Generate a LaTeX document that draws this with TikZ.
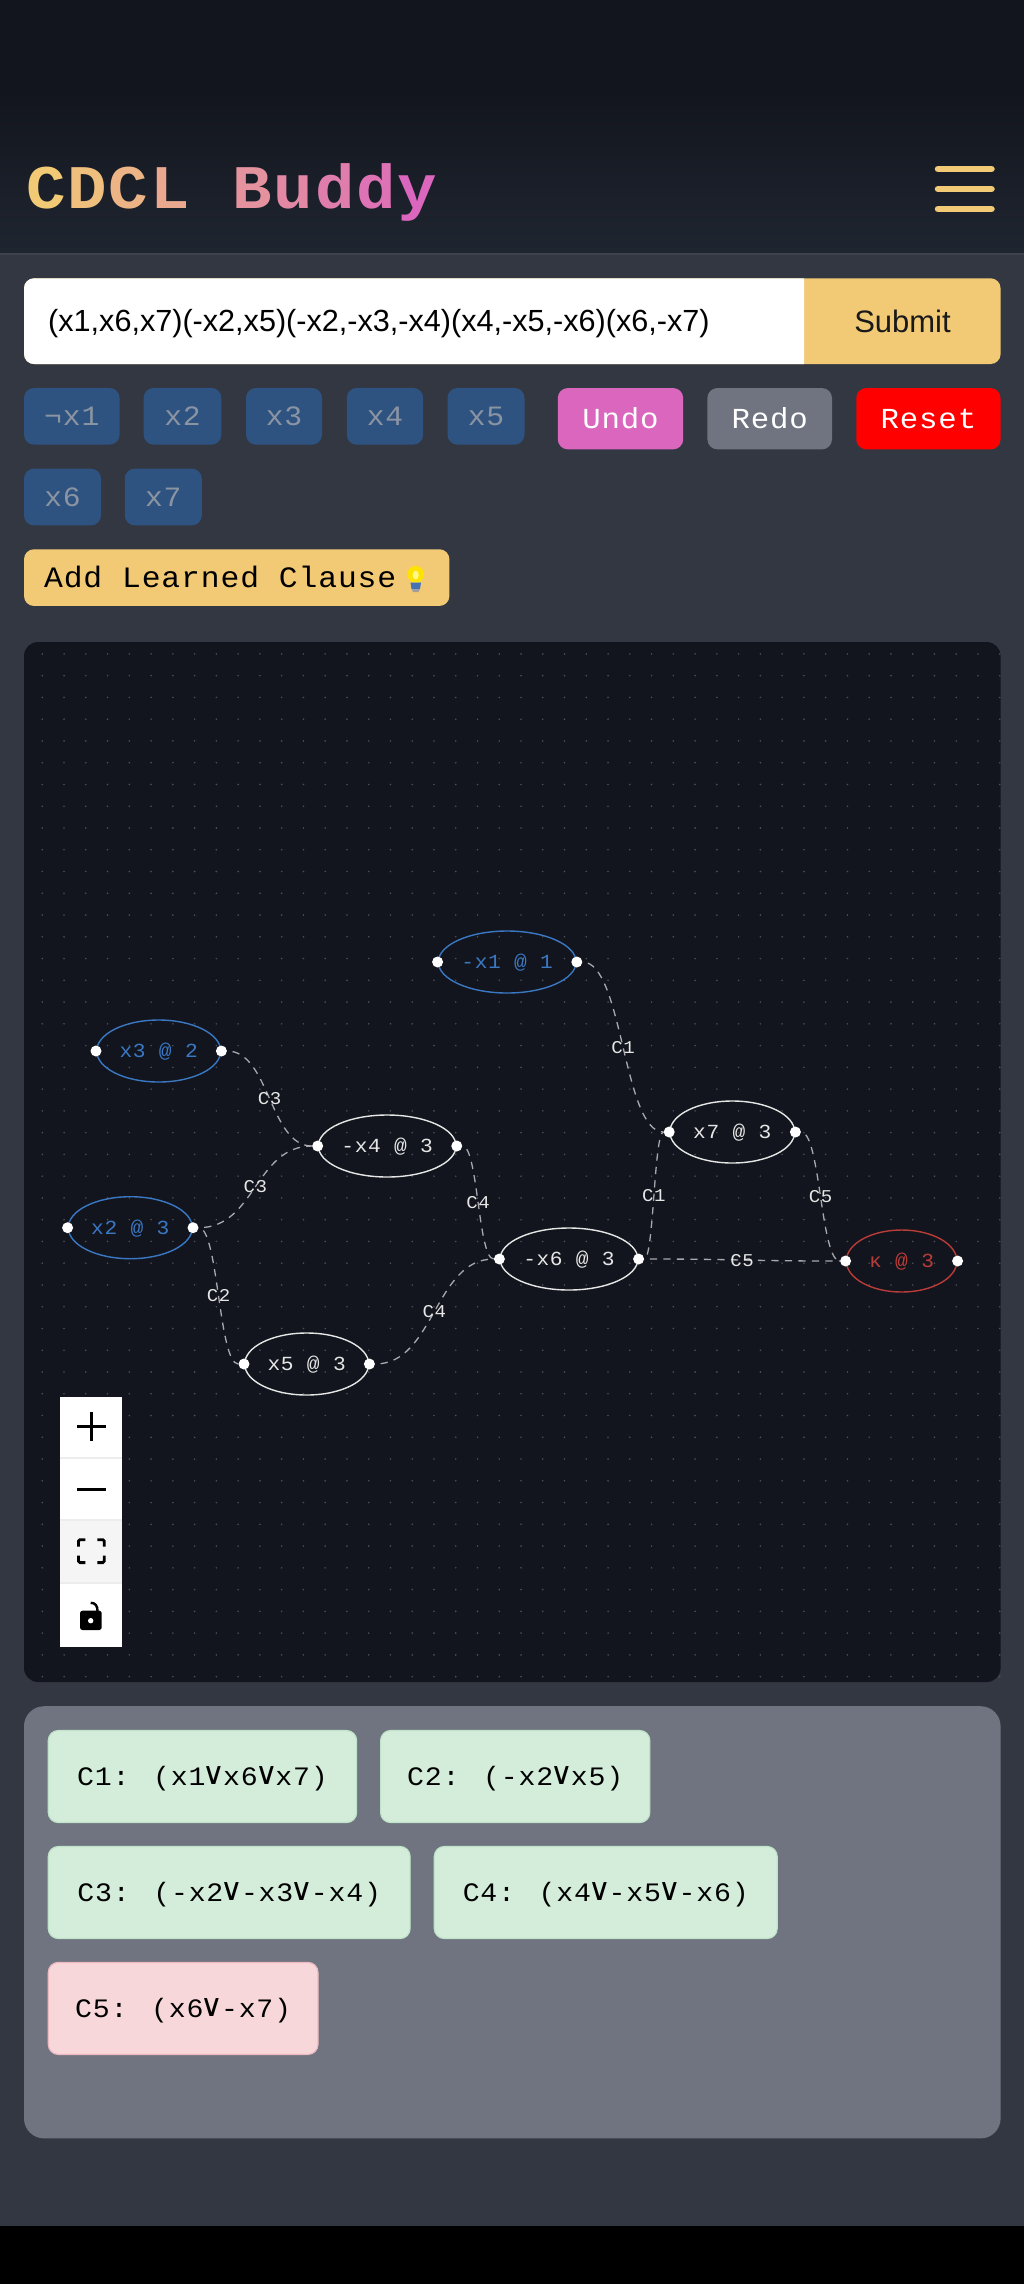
\documentclass[tikz,border=0pt]{standalone}
\usepackage{fontspec}
\usepackage{xcolor}
\usetikzlibrary{shapes.geometric, positioning, calc}
\setmainfont{Liberation Sans}
\newfontfamily\monofont[FakeStretch=1.06,LetterSpace=3,BoldFeatures={FakeStretch=1.06}]{Liberation Mono}
\newfontfamily\orfont{DejaVu Sans}
\newcommand{\orsym}{\makebox[17.6pt]{\raisebox{1pt}{\orfont\fontsize{31}{31}\selectfont\char"2228}}}
\newcommand{\titlechar}[2]{\makebox[41.3pt][l]{\color{#1}#2}}

\definecolor{pagebg}{HTML}{333742}
\definecolor{headtop}{HTML}{12151D}
\definecolor{headbot}{HTML}{1F2530}
\definecolor{headline}{HTML}{3E424C}
\definecolor{gold}{HTML}{F2CA76}
\definecolor{pink}{HTML}{DA67BD}
\definecolor{slate}{HTML}{6F7480}
\definecolor{varbg}{HTML}{2F5380}
\definecolor{vartext}{HTML}{8A94A3}
\definecolor{griddot}{HTML}{4C4F57}
\definecolor{nodeblue}{HTML}{3A78C4}
\definecolor{nodered}{HTML}{B83C38}
\definecolor{nodewhite}{HTML}{E6E6E6}
\definecolor{edgegrey}{HTML}{A8A8AE}
\definecolor{okbg}{HTML}{D4EDDA}
\definecolor{okline}{HTML}{BFE3C8}
\definecolor{badbg}{HTML}{F8D7DA}
\definecolor{badline}{HTML}{EDB9BF}

\tikzset{
  varchip/.style={fill=varbg, text=vartext, rounded corners=10, inner sep=0, minimum height=56.7,
    font=\monofont\fontsize{28}{30}\selectfont, text height=18.3, text depth=0},
  actbtn/.style={rounded corners=10, inner sep=0, minimum height=61.3, text=white,
    font=\monofont\fontsize{29}{32}\selectfont, text height=20, text depth=0},
  impl/.style={ellipse, draw=nodewhite, text=nodewhite, line width=1.4, inner sep=0, minimum height=62,
    font=\monofont\fontsize{20}{22}\selectfont, text height=12.7, text depth=0},
  decided/.style={impl, draw=nodeblue, text=nodeblue},
  conflict/.style={impl, draw=nodered, text=nodered},
  handle/.style={circle, fill=white, inner sep=0, minimum size=11},
  impledge/.style={edgegrey, line width=1.3, dash pattern=on 7.3 off 6.2, dash phase=8},
  edgelabel/.style={text=nodewhite, inner sep=0, font=\monofont\fontsize{18}{20}\selectfont, text height=12, text depth=0},
  clausebox/.style={rounded corners=10, line width=1.2, inner sep=0, minimum height=92, anchor=west, text=black,
    font=\monofont\fontsize{26.6}{30}\selectfont, text height=18.5, text depth=0}
}

\begin{document}
\begin{tikzpicture}[x=1pt,y=-1pt]
\useasboundingbox (0,0) rectangle (1024,2284);
\fill[pagebg] (0,0) rectangle (1024,2284);

% Header
\fill[headtop] (0,0) rectangle (1024,90);
\shade[top color=headtop, bottom color=headbot] (0,90) rectangle (1024,253);
\fill[headline] (0,253) rectangle (1024,255);
\node[anchor=base west, inner sep=0, font=\monofont\bfseries\fontsize{62}{64}\selectfont] (title) at (26,208)
  {\titlechar{gold}{C}\titlechar{gold!89!pink}{D}\titlechar{gold!78!pink}{C}\titlechar{gold!67!pink}{L}\titlechar{gold}{ }\titlechar{gold!44!pink}{B}\titlechar{gold!33!pink}{u}\titlechar{gold!22!pink}{d}\titlechar{gold!11!pink}{d}\titlechar{pink}{y}};
\foreach \y in {169,189,209} {
    \draw[gold, line width=6.5, line cap=round] (938,\y) -- (991.5,\y);
}

% Input row
\fill[gold, rounded corners=10] (24,278.3) rectangle (1000.6,364);
\begin{scope}
    \clip (0,270) rectangle (804,370);
    \fill[white, rounded corners=10] (24,278.3) rectangle (830,364);
\end{scope}
\node[anchor=base west, inner sep=0, font=\fontsize{30.6}{32}\selectfont] (formula) at (48,331) {(x1,x6,x7)(-x2,x5)(-x2,-x3,-x4)(x4,-x5,-x6)(x6,-x7)};
\node[inner sep=0, font=\fontsize{31}{32}\selectfont, text=black!90] (submit) at (902.5,321) {Submit};

% Variable chips
\foreach \name/\txt/\x/\y/\w in {chipa/¬x1/71.8/416.3/95.5, chipb/x2/182.5/416.3/77.7, chipc/x3/284/416.3/76, chipd/x4/385/416.3/76.4, chipe/x5/486/416.3/77, chipf/x6/62.5/497/77, chipg/x7/163.3/497/77} {
    \node[varchip, minimum width=\w] (\name) at (\x,\y) {\txt};
}

% Actions
\foreach \name/\txt/\x/\w/\c in {undo/Undo/620.5/125.4/pink, redo/Redo/769.7/124.6/slate, reset/Reset/928.4/144.3/red} {
    \node[actbtn, fill=\c, minimum width=\w] (\name) at (\x,418.7) {\txt};
}
\node[varchip, fill=gold, text=black, minimum width=425.4, font=\monofont\fontsize{29.6}{31}\selectfont, text height=19] (learn) at (236.7,577.6) {\hspace{-33pt}Add Learned Clause};
% bulb
\fill[yellow!85!orange] (415.7,574.3) circle (8.4);
\fill[yellow!45!white] (415.7,575) ellipse (3 and 4.5);
\fill[cyan!45!blue!75!gray] (410.5,582.5) -- (421,582.5) -- (420,589) -- (411.5,589) -- cycle;
\fill[gray!75] (411.7,589) -- (419.8,589) -- (418.5,592) -- (413,592) -- cycle;

% Graph panel
\fill[headtop, rounded corners=14] (24,642) rectangle (1000.6,1682);
\foreach \i in {0,...,44} {
    \foreach \j in {0,...,47} {
        \fill[griddot] (42.3+21.76*\i,653.9+21.76*\j) circle (0.9);
    }
}

% Implication graph
\node[decided, minimum width=137.8] (x1) at (507.2,962) {-x1 @ 1};
\node[decided, minimum width=124] (x3) at (158.7,1051) {x3 @ 2};
\node[decided, minimum width=124] (x2) at (130.3,1227.7) {x2 @ 3};
\node[impl, minimum width=137.7] (x4) at (387.2,1146) {-x4 @ 3};
\node[impl, minimum width=124.8] (x7) at (732.3,1132) {x7 @ 3};
\node[impl, minimum width=137.8] (x6) at (569,1259) {-x6 @ 3};
\node[impl, minimum width=124] (x5) at (306.7,1364) {x5 @ 3};
\node[conflict, minimum width=110.6] (kappa) at (901.6,1261) {κ @ 3};

\foreach \n in {x1,x2,x3,x4,x5,x6,x7,kappa} {
    \node[handle] (hl\n) at (\n.west) {};
    \node[handle] (hr\n) at (\n.east) {};
}

\foreach \a/\b/\c in {x3/x4/C3, x2/x4/C3, x2/x5/C2, x4/x6/C4, x5/x6/C4, x1/x7/C1, x6/x7/C1, x7/kappa/C5, x6/kappa/C5} {
    \draw[impledge] (hr\a) .. controls ($(hr\a)!0.5!(hl\b |- hr\a)$) and ($(hl\b)!0.5!(hr\a |- hl\b)$) .. (hl\b)
        node[edgelabel, midway] {\c};
}

% Zoom controls
\fill[white] (60,1397) rectangle (122.3,1646.7);
\fill[black!4] (60,1520) rectangle (122.3,1582.7);
\foreach \y in {1458.3,1520,1582.7} {
    \fill[black!7] (60,\y-1) rectangle (122.3,\y+1);
}
\draw[black, line width=2.8] (77,1426.7) -- (105.7,1426.7) (91.3,1412.3) -- (91.3,1441);
\draw[black, line width=2.8] (77,1489.3) -- (105.7,1489.3);
\foreach \sx/\sy/\cx/\cy in {1/1/78.4/1539.7, -1/1/104.3/1539.7, 1/-1/78.4/1562.6, -1/-1/104.3/1562.6} {
    \draw[black, line width=2.8, rounded corners=1.5] (\cx,\cy+\sy*7) -- (\cx,\cy) -- (\cx+\sx*7,\cy);
}
\fill[black, rounded corners=2.5] (80,1610.7) rectangle (101.7,1630);
\fill[white] (90.7,1620.7) circle (2.7);
\draw[black, line width=2.4] (90.7,1602.8) .. controls (95.5,1602.8) and (97.5,1606) .. (97.5,1611);

% Clause list
\fill[slate, rounded corners=20] (24,1706.2) rectangle (1000.6,2138.4);
\foreach \name/\txt/\x/\y/\w/\fc/\lc in {
    cla/{C1: (x1\orsym x6\orsym x7)}/47.7/1776.5/308.3/okbg/okline,
    clb/{C2: (-x2\orsym x5)}/380/1776.5/269.2/okbg/okline,
    clc/{C3: (-x2\orsym -x3\orsym -x4)}/47.7/1892.5/361.8/okbg/okline,
    cld/{C4: (x4\orsym -x5\orsym -x6)}/433.7/1892.5/342.9/okbg/okline,
    cle/{C5: (x6\orsym -x7)}/47.7/2008.4/269.7/badbg/badline} {
    \node[clausebox, fill=\fc, draw=\lc, minimum width=\w] (\name) at (\x,\y) {\txt};
}

% Bottom bar
\fill[black] (0,2226) rectangle (1024,2284);
\end{tikzpicture}
\end{document}
